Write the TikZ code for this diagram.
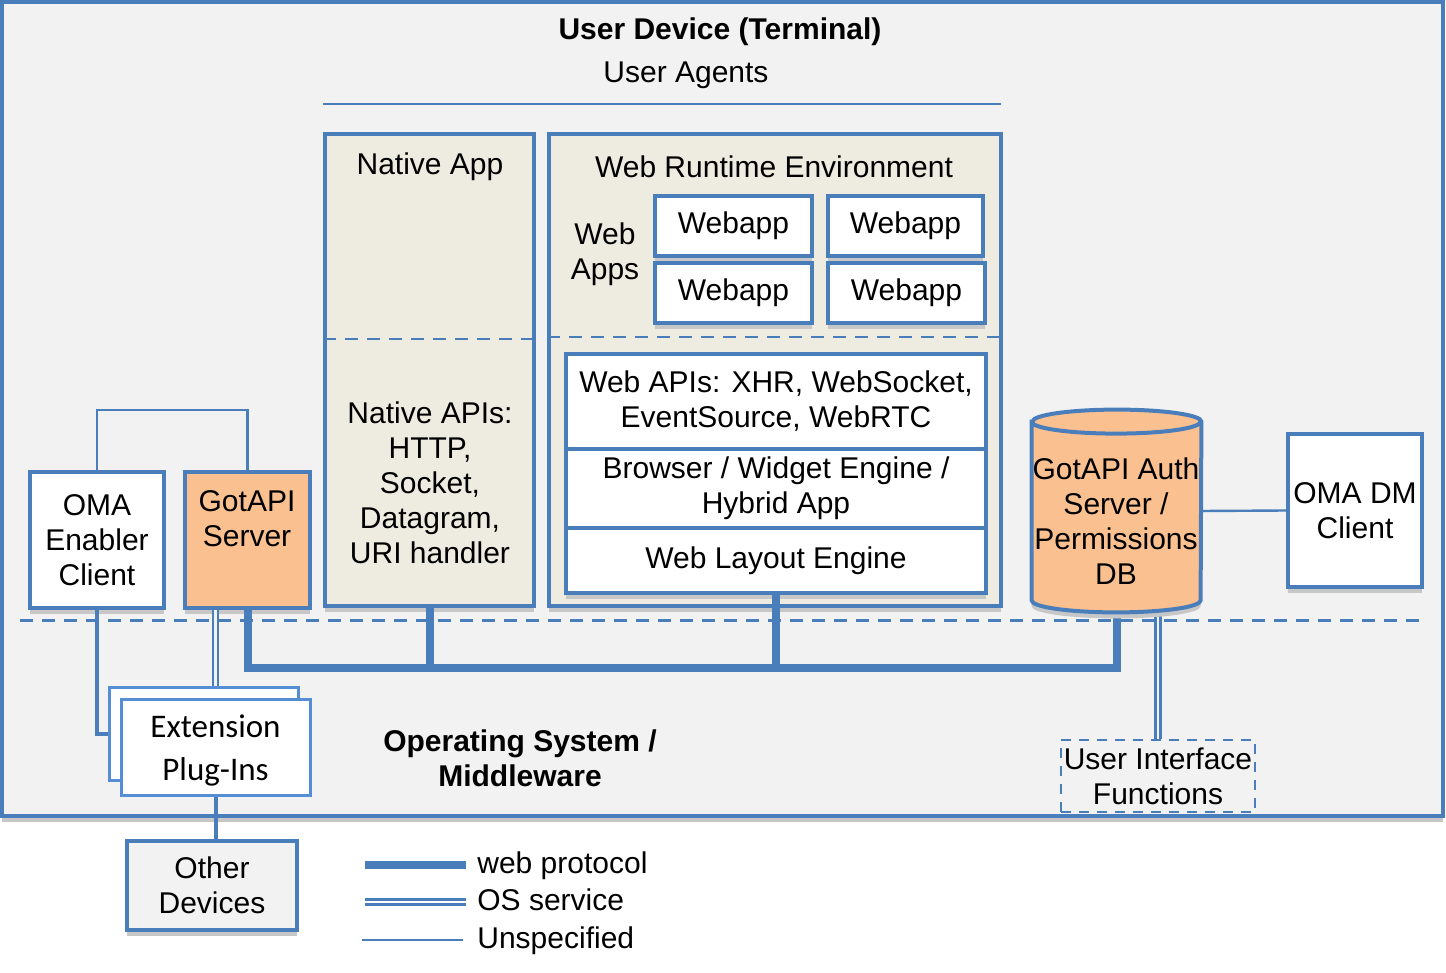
\documentclass[tikz,border=0pt]{standalone}
\usepackage{fontspec}
\setmainfont{Liberation Sans}
\newfontfamily\plugfont{Carlito}
\usetikzlibrary{shapes.geometric,positioning,fit,shadows}

\definecolor{omablue}{RGB}{74,126,187}
\definecolor{omalight}{RGB}{85,142,213}
\definecolor{omabeige}{RGB}{238,236,225}
\definecolor{omaorange}{RGB}{250,192,144}
\definecolor{omagray}{RGB}{242,242,242}

\begin{document}
\begin{tikzpicture}[x=0.5pt, y=-0.5pt, font=\fontsize{15}{17.5}\selectfont,
    oma shadow/.style={drop shadow={shadow xshift=0pt, shadow yshift=-3pt, fill=black!22, opacity=1}},
    oma block/.style={rectangle, draw=omablue, line width=2pt, fill=white, inner sep=0pt, oma shadow},
    oma frame/.style={oma block, fill=omabeige},
    plug block/.style={rectangle, draw=omalight, line width=1.5pt, fill=white, inner sep=0pt},
    oma dash/.style={draw=omablue, line width=1.5pt, dash pattern=on 6.5pt off 4.5pt},
    oma text/.style={align=center, inner sep=0pt},
    inside/.style={label={[oma text]center:#1}},
    db rim/.style={x radius=42.25pt, y radius=6pt},
    legend text/.style={anchor=west, inner sep=0pt, text height=11pt, text depth=3pt},
    web link/.style={draw=omablue, line width=4pt},
    os link/.style={draw=omablue, line width=1.1pt, double=omagray, double distance=1.4pt},
    plain link/.style={draw=omablue, line width=1.2pt}]

    \useasboundingbox (0,0) rectangle (1446,973);

    % terminal frame
    \node[oma block, fill=omagray, fit={(2,2) (1443,816)}] (device) {};
    \node[oma text, font=\fontsize{15}{17.5}\selectfont\bfseries] (devtitle) at (720,32) {User Device (Terminal)};
    \node[oma text] (agents) at (686,75) {User Agents};
    \draw[plain link] (323,104) -- (1001,104);

    % native app
    \node[oma frame, fit={(325,134) (534,606)}] (native) {};
    \draw[oma dash, line width=1.2pt] (native.west |- 0,339) -- (native.east |- 0,339);
    \node[oma text] (nativetitle) at (430,167) {Native App};
    \node[oma text] (nativeapis) at (430,483) {Native APIs:\\HTTP,\\Socket,\\Datagram,\\URI handler};

    % web runtime
    \node[oma frame, fit={(549,134) (1001,606)}] (wre) {};
    \draw[oma dash, line width=1.2pt] (wre.west |- 0,337) -- (wre.east |- 0,337);
    \node[oma text] (wretitle) at (774,167) {Web Runtime Environment};
    \node[oma text] (webapps) at (605,254) {Web\\Apps};
    \node[oma block, fit={(655,196) (812,256)}, inside=Webapp] (appa) {};
    \node[oma block, fit={(828,196) (983,256)}, inside=Webapp] (appb) {};
    \node[oma block, fit={(655,263) (812,323)}, inside=Webapp] (appc) {};
    \node[oma block, fit={(828,263) (985,323)}, inside=Webapp] (appd) {};

    \node[oma block, fit={(566,354) (986,449)}, inside={Web APIs: XHR, WebSocket,\\EventSource, WebRTC}] (webapis) {};
    \node[oma block, fit={(566,449) (986,528)}, inside={Browser / Widget Engine /\\Hybrid App}] (browser) {};
    \node[oma block, fit={(566,528) (986,593)}, inside={Web Layout Engine}] (layout) {};

    % left side
    \node[oma block, fit={(30,472) (164,608)}, inside={OMA\\Enabler\\Client}] (enabler) {};
    \node[oma block, fill=omaorange, fit={(185,472) (310,608)}] (gotapi) {};
    \node[oma text] (gotapitext) at (247,519) {GotAPI\\Server};

    % right side
    \node[fit={(1032,410) (1201,612)}, inner sep=0pt] (authdb) {};
    \node[oma block, fit={(1288,434) (1422,587)}, inside={OMA DM\\Client}] (omadm) {};

    % OS boundary
    \draw[oma dash] (20,620) -- (1420,620);

    \node[plug block, fit={(109,687) (298,780)}] (plugback) {};
    \node[plug block, fit={(121,699) (310,795)},
          label={[oma text, font=\plugfont\fontsize{16.5}{21.5}\selectfont, yshift=-1.5pt]center:Extension\\Plug-Ins}] (plugfront) {};
    \node[draw=omablue, line width=1.3pt, dash pattern=on 5pt off 4pt, fit={(1061,740) (1255,812)}, inner sep=0pt,
          inside={User Interface\\Functions}] (uifunc) {};
    \node[oma text, font=\fontsize{15}{17.5}\selectfont\bfseries] (osmid) at (520,758) {Operating System /\\Middleware};

    \node[oma block, fill=omagray, fit={(127,841) (297,930)}, inside={Other\\Devices}] (other) {};

    % connectors
    \coordinate (bus) at (0,668);
    \draw[web link] (gotapi.south) |- (bus -| authdb.south) -- (authdb.south);
    \draw[web link] (native.south) -- (native.south |- bus);
    \draw[web link] (layout.south) -- (layout.south |- bus);
    \draw[os link] (gotapi.south -| plugfront.north) -- (plugback.north -| plugfront.north);
    \draw[os link] (uifunc.north) -- (uifunc.north |- authdb.south);
    \draw[plain link] (enabler.north) -- ++(0,-60) -| (gotapi.north);
    \draw[plain link, line width=2pt] (enabler.south) |- (plugback.west);
    \draw[plain link, line width=2pt] (plugfront.south) -- (plugfront.south |- other.north);
    \draw[plain link] (authdb.east) -- (omadm.west);

    % auth db cylinder
    \draw[draw=omablue, line width=2pt, fill=omaorange, oma shadow]
        ([yshift=-6pt]authdb.north west) -- ([yshift=6pt]authdb.south west)
        arc[start angle=180, end angle=360, db rim] -- ([yshift=-6pt]authdb.north east)
        arc[start angle=0, end angle=180, db rim] -- cycle;
    \draw[draw=omablue, line width=2pt] ([yshift=-6pt]authdb.north west) arc[start angle=180, end angle=360, db rim];
    \node[oma text] (authtext) at (1116,521) {GotAPI Auth\\Server /\\Permissions\\DB};

    % legend
    \node[legend text] (lgweb) at (477,865) {web protocol};
    \node[legend text] (lgos) at (477,902) {OS service};
    \node[legend text] (lgnone) at (477,940) {Unspecified};
    \draw[web link] ([xshift=-5.5pt]lgweb.west) -- ++(-101,0);
    \draw[os link, double=white] ([xshift=-5.5pt]lgos.west) -- ++(-101,0);
    \draw[plain link] ([xshift=-7pt]lgnone.west) -- ++(-101,0);

\end{tikzpicture}
\end{document}
